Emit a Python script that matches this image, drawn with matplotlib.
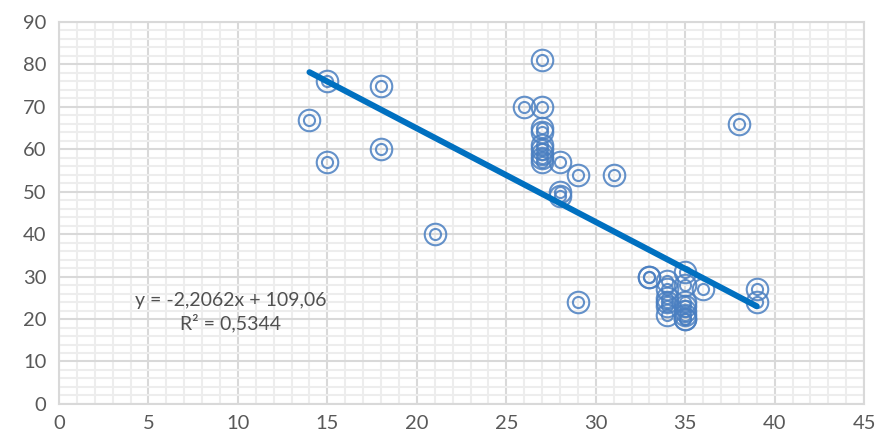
import matplotlib
matplotlib.use("Agg")
import matplotlib.pyplot as plt
from matplotlib.ticker import MultipleLocator
import numpy as np

plt.rcParams['font.family'] = ['Lato', 'DejaVu Sans']

x_vals = [14, 15, 15, 18, 18, 21, 26,
          27, 27, 27, 27, 27, 27, 27, 27, 27,
          28, 28, 28, 29, 29, 31,
          33, 33,
          34, 34, 34, 34, 34, 34,
          35, 35, 35, 35, 35, 35, 35, 35,
          36, 38, 39, 39]
y_vals = [67, 76, 57, 75, 60, 40, 70,
          81, 70, 65, 64, 61, 60, 59, 58, 57,
          57, 50, 49, 54, 24, 54,
          30, 30,
          29, 27, 25, 24, 23, 21,
          31, 28, 24, 23, 22, 21, 20, 20,
          27, 66, 27, 24]

slope = -2.2062
intercept = 109.06
eq_label = "y = -2,2062x + 109,06\nR² = 0,5344"

x_ticks = [0, 5, 10, 15, 20, 25, 30, 35, 40, 45]
y_ticks = [0, 10, 20, 30, 40, 50, 60, 70, 80, 90]

fig = plt.figure(figsize=(8.8, 4.4), dpi=100)
ax = fig.add_axes([0.067, 0.082, 0.915, 0.868])

major_c = '#D9D9D9'
minor_c = '#EDEDED'
ax.set_xlim(0, 45)
ax.set_ylim(0, 90)
ax.set_xticks(x_ticks)
ax.set_yticks(y_ticks)
ax.xaxis.set_minor_locator(MultipleLocator(1))
ax.yaxis.set_minor_locator(MultipleLocator(2))
ax.grid(which='minor', color=minor_c, linewidth=1.5, zorder=0)
ax.grid(which='major', color=major_c, linewidth=1.5, zorder=0.5)
ax.set_axisbelow(True)
for s in ax.spines.values():
    s.set_color(major_c)
    s.set_linewidth(1.5)
ax.tick_params(which='both', length=0, labelsize=14.5, labelcolor='#595959')
ax.tick_params(axis='x', pad=8)
ax.tick_params(axis='y', pad=9)

ring_c = '#4A7FC1'
ax.plot(x_vals, y_vals, linestyle='none', marker='o', markersize=15.5,
        markerfacecolor='none', markeredgecolor=ring_c, markeredgewidth=1.5,
        alpha=0.85, zorder=3)
ax.plot(x_vals, y_vals, linestyle='none', marker='o', markersize=8,
        markerfacecolor='none', markeredgecolor=ring_c, markeredgewidth=1.5,
        alpha=0.85, zorder=3)

xl = np.array([min(x_vals), max(x_vals)])
ax.plot(xl, slope * xl + intercept, color='#0070C0', linewidth=4.3,
        solid_capstyle='round', zorder=4)

ax.text(9.6, 21.6, eq_label, ha='center', va='center', fontsize=14,
        color='#505050', linespacing=1.3, zorder=5)

fig.savefig('out.png', dpi=100)
